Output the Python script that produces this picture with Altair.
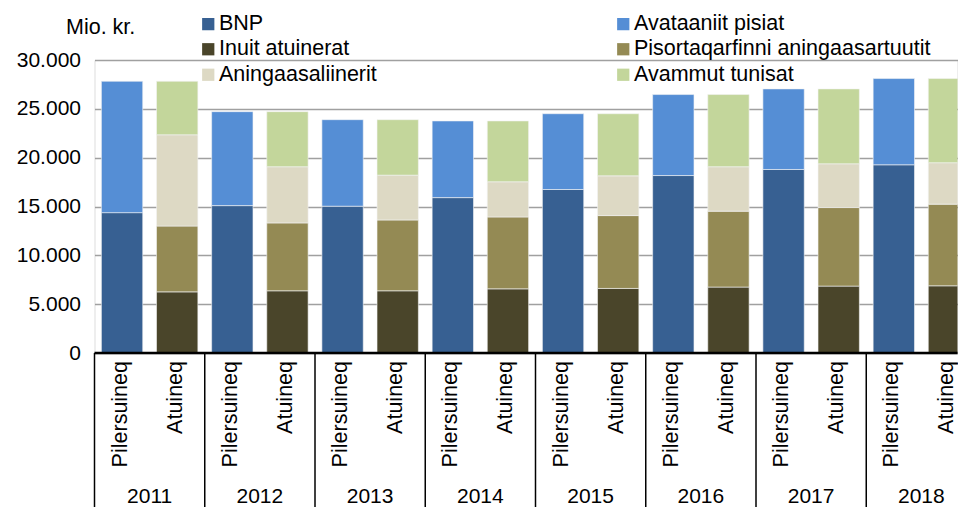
import altair as alt
import pandas as pd

years = ["2011", "2012", "2013", "2014", "2015", "2016", "2017", "2018"]
kinds = ["Pilersuineq", "Atuineq"]
series = ["BNP", "Avataaniit pisiat", "Inuit atuinerat",
          "Pisortaqarfinni aningaasartuutit", "Aningaasaliinerit", "Avammut tunisat"]
colors = ["#376092", "#558ED5", "#4A452A", "#948A54", "#DDD9C4", "#C3D69B"]
# legend reading order (two columns, filled column by column)
legend_order = ["BNP", "Inuit atuinerat", "Aningaasaliinerit",
                "Avataaniit pisiat", "Pisortaqarfinni aningaasartuutit", "Avammut tunisat"]

# Pilersuineq (supply)
bnp = [14370, 15090, 15030, 15910, 16740, 18170, 18790, 19270]
avataaniit = [13450, 9620, 8860, 7850, 7760, 8290, 8250, 8830]
# Atuineq (use)
inuit = [6260, 6370, 6370, 6570, 6610, 6750, 6850, 6880]
pisort = [6740, 6950, 7250, 7360, 7460, 7770, 8040, 8360]
aning = [9340, 5750, 4590, 3600, 4070, 4550, 4480, 4240]
avammut = [5480, 5640, 5680, 6230, 6360, 7390, 7670, 8620]

ytick_values = [0, 5000, 10000, 15000, 20000, 25000, 30000]

supply = {"BNP": bnp, "Avataaniit pisiat": avataaniit}
use = {"Inuit atuinerat": inuit, "Pisortaqarfinni aningaasartuutit": pisort,
       "Aningaasaliinerit": aning, "Avammut tunisat": avammut}

rows = []
for i, yr in enumerate(years):
    for kind, group in (("Pilersuineq", supply), ("Atuineq", use)):
        for s, vals in group.items():
            rows.append({"key": f"{yr}|{kind}", "year": yr, "kind": kind,
                         "series": s, "order": series.index(s), "value": vals[i]})
df = pd.DataFrame(rows)

keys = [f"{yr}|{k}" for yr in years for k in kinds]
catdf = pd.DataFrame({"key": keys, "kind": [k.split("|")[1] for k in keys]})
yeardf = pd.DataFrame({"key": [f"{yr}|Pilersuineq" for yr in years], "year": years})

color_of = dict(zip(series, colors))

FONT = "Liberation Sans"
FS = 21
W, H, RANGE = 863, 293, 882
STEP = RANGE / 16.0
HALF_GAP = STEP * 0.125

xscale = alt.Scale(domain=keys, range=[0, RANGE], paddingInner=0.25, paddingOuter=0.125)

bars = alt.Chart(df).mark_bar(stroke="#f4f4f4", strokeWidth=0.6, clip=True).encode(
    x=alt.X("key:N", scale=xscale, axis=None, sort=keys),
    y=alt.Y("value:Q", stack="zero",
            scale=alt.Scale(domain=[0, 30000], nice=False),
            axis=alt.Axis(values=ytick_values, grid=True, gridColor="#a0a0a0", gridWidth=1.5,
                          domain=False, ticks=False, labelFont=FONT, labelFontSize=FS,
                          labelColor="#000000", labelPadding=14,
                          labelExpr="replace(format(datum.value, ','), ',', '.')",
                          title="Mio. kr.", titleAngle=0, titleX=-29, titleY=-33,
                          titleAlign="left", titleBaseline="middle", titleFont=FONT,
                          titleFontSize=21.5, titleFontWeight="normal", titleColor="#000000")),
    color=alt.Color("series:N",
                    scale=alt.Scale(domain=legend_order, range=[color_of[s] for s in legend_order]),
                    legend=alt.Legend(title=None, orient="none", legendX=103, legendY=-47,
                                      columns=2, columnPadding=235, rowPadding=2.5,
                                      symbolType="square", symbolSize=150,
                                      symbolStrokeWidth=0, labelFont=FONT,
                                      labelFontSize=21.5, labelColor="#000000",
                                      labelLimit=500, labelOffset=0)),
    order=alt.Order("order:Q"),
)

baseline = alt.Chart(pd.DataFrame({"v": [0]})).mark_rule(color="black", strokeWidth=2.5).encode(
    x=alt.value(0), x2=alt.value(W), y=alt.value(H)
)

dividers = alt.Chart(yeardf).mark_rule(color="black", strokeWidth=1.5, xOffset=-HALF_GAP).encode(
    x=alt.X("key:N", scale=xscale, bandPosition=0, axis=None),
    y=alt.value(H), y2=alt.value(H + 160),
)

cat_labels = alt.Chart(catdf).mark_text(angle=270, align="right", baseline="middle",
                                        font=FONT, fontSize=21.5, color="black",
                                        xOffset=-1.5).encode(
    x=alt.X("key:N", scale=xscale, axis=None),
    y=alt.value(H + 8),
    text="kind:N",
)

year_labels = alt.Chart(yeardf).mark_text(align="center", baseline="middle", font=FONT,
                                          fontSize=FS, color="black", xOffset=HALF_GAP).encode(
    x=alt.X("key:N", scale=xscale, bandPosition=1, axis=None),
    y=alt.value(H + 144),
    text="year:N",
)

chart = alt.layer(bars, baseline, dividers, cat_labels, year_labels).properties(
    width=W, height=H,
    padding={"left": 86.5, "top": 52, "right": 0, "bottom": 155},
    autosize=alt.AutoSizeParams(type="none"),
    background="white",
).configure_view(stroke=None).configure(font=FONT)

chart.save("out.html", embed_options={"renderer": "svg", "actions": False})
